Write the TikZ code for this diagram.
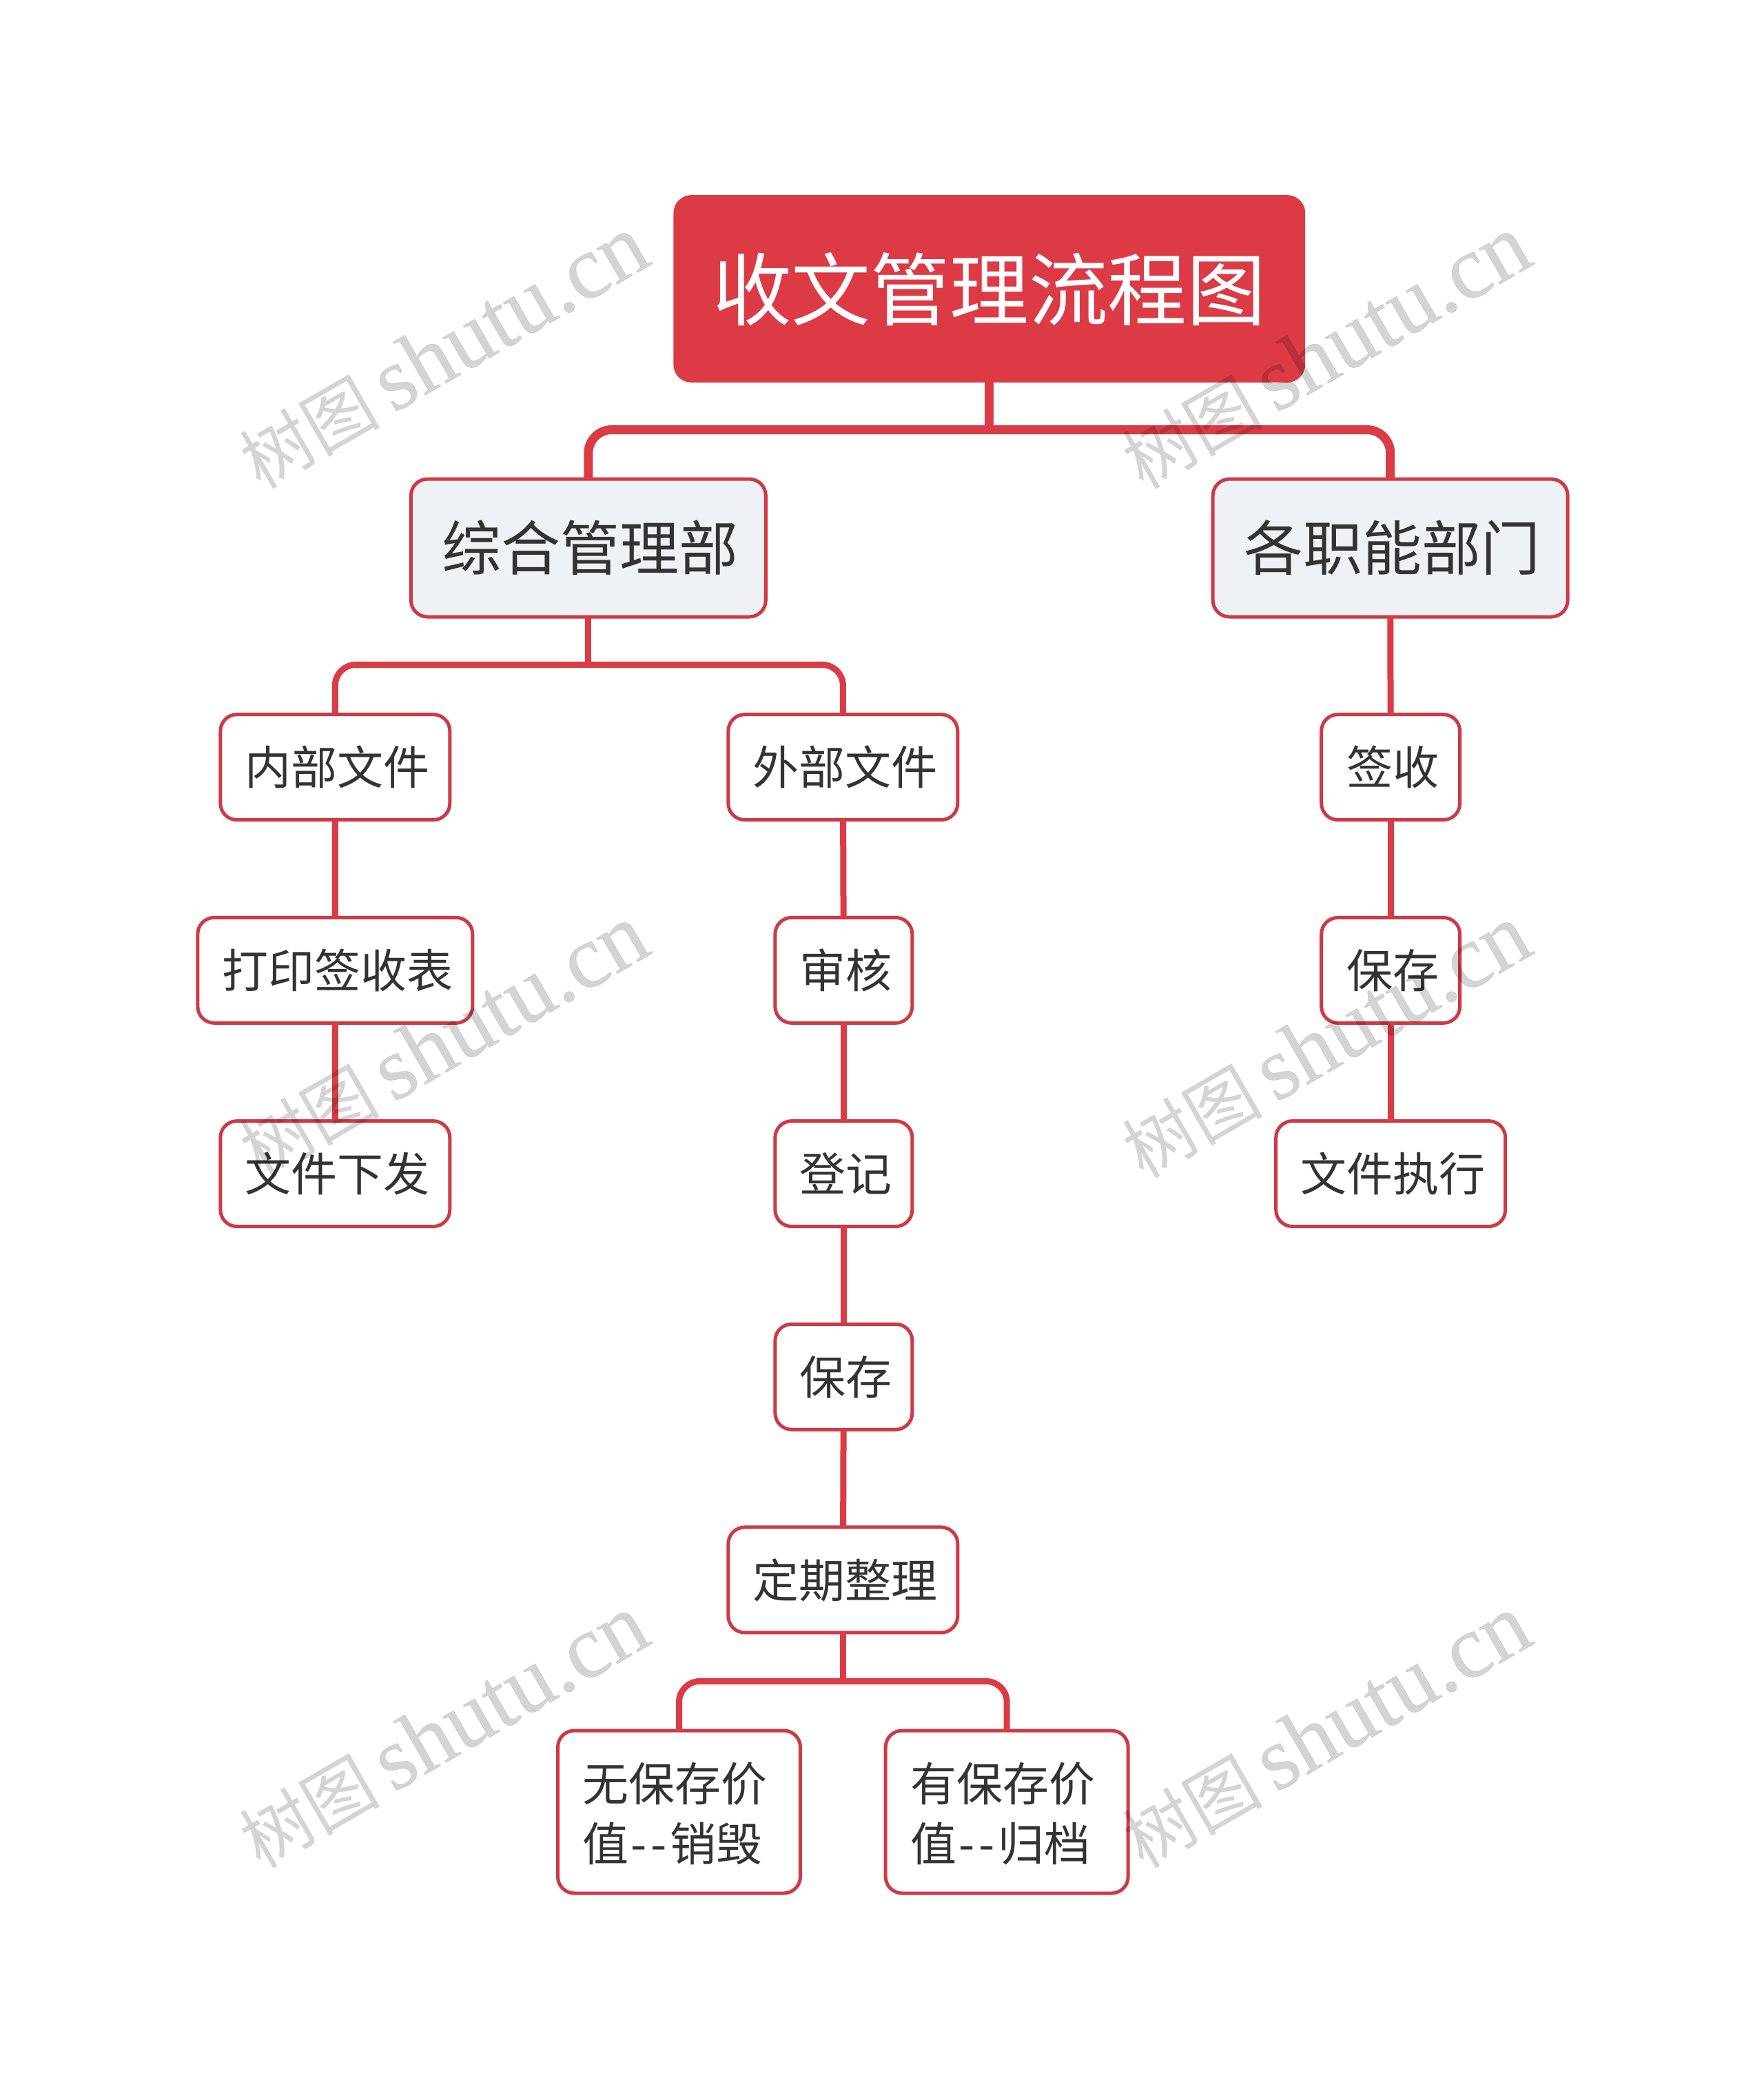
\documentclass[tikz,border=0pt]{standalone}
\usepackage{fontspec}
\setmainfont{Noto Sans CJK SC}
\newfontfamily\wmlatin[FakeBold=0.25]{Liberation Serif}
\newfontfamily\wmcjk{Noto Sans CJK SC}
\definecolor{rootred}{HTML}{DC3B45}
\definecolor{edgered}{HTML}{CE3A43}
\definecolor{panelgrey}{HTML}{EEF1F5}
\definecolor{inkgrey}{HTML}{333333}
\newcommand{\dhy}{\kern1.5pt-\kern3pt-\kern2.5pt}
\tikzset{
  x=0.4987pt,y=-0.4987pt,
  rootbox/.style={draw=none,fill=rootred,rounded corners=13pt,text=white,inner sep=0pt,outer sep=0pt,
    minimum width=458.5pt,minimum height=136pt,font=\fontsize{57.4}{66}\selectfont},
  deptbox/.style={draw=edgered,line width=2.5pt,fill=panelgrey,rounded corners=12pt,text=inkgrey,inner sep=0pt,outer sep=0pt,
    minimum width=257.5pt,minimum height=100pt,font=\fontsize{43}{52}\selectfont,execute at begin node={\hspace{3pt}}},
  leafbase/.style={draw=edgered,line width=2.5pt,fill=white,rounded corners=12pt,text=inkgrey,inner sep=0pt,outer sep=0pt,
    minimum height=76.5pt,font=\fontsize{33.5}{43.5}\selectfont},
  leafbox/.style={leafbase,execute at begin node={\hspace{3.5pt}}},
  twoline/.style={leafbase,minimum width=176pt,minimum height=118pt,align=left,text width=140pt},
  busthick/.style={draw=rootred,line width=6.5pt,rounded corners=17pt},
  busthin/.style={draw=rootred,line width=4.5pt,rounded corners=15pt},
  wmark/.style={text=black,text opacity=0.17,rotate=30,inner sep=0pt},
}
\begin{document}
\begin{tikzpicture}
\useasboundingbox (0,0) rectangle (2566.9,3042.3);
\begin{scope}[shift={(1.2,1.2)}]
\coordinate (busA) at (0,624);
\coordinate (busB) at (0,966);
\coordinate (busC) at (0,2445);

\node[rootbox] (root) at (1438.5,419) {收文管理流程图};
\node[deptbox] (zonghe) at (855,796) {综合管理部};
\node[deptbox] (gezhi) at (2022,796) {各职能部门};
\node[leafbox,minimum width=166.5pt] (neibu) at (486.5,1115) {内部文件};
\node[leafbox,minimum width=166.5pt] (waibu) at (1225.5,1115) {外部文件};
\node[leafbox,minimum width=100.5pt] (qianshou) at (2022.5,1115) {签收};
\node[leafbox,minimum width=199.5pt] (dayin) at (486.5,1410.5) {打印签收表};
\node[leafbox,minimum width=99.5pt] (shenhe) at (1226.5,1410.5) {审核};
\node[leafbox,minimum width=100.5pt] (baocunr) at (2022.5,1410.5) {保存};
\node[leafbox,minimum width=166.5pt] (xiafa) at (486.5,1706.5) {文件下发};
\node[leafbox,minimum width=99.5pt] (dengji) at (1226.5,1706.5) {登记};
\node[leafbox,minimum width=166.5pt] (zhixing) at (2022.5,1706.5) {文件执行};
\node[leafbox,minimum width=99.5pt] (baocunm) at (1226.5,2002) {保存};
\node[leafbox,minimum width=166.5pt] (zhengli) at (1225.5,2297.5) {定期整理};
\node[twoline] (wu) at (987,2635) {\rule{0pt}{31pt}无保存价\\值\dhy 销毁};
\node[twoline] (you) at (1464,2635) {\rule{0pt}{31pt}有保存价\\值\dhy 归档};

\draw[busthick] (root.south) -- (root.south |- busA);
\draw[busthick] (zonghe.north) -- (zonghe.north |- busA) -- (gezhi.north |- busA) -- (gezhi.north);
\draw[busthin] (zonghe.south) -- (zonghe.south |- busB);
\draw[busthin] (neibu.north) -- (neibu.north |- busB) -- (waibu.north |- busB) -- (waibu.north);
\draw[busthin] (neibu) -- (dayin);
\draw[busthin] (dayin) -- (xiafa);
\draw[busthin] (waibu) -- (shenhe);
\draw[busthin] (shenhe) -- (dengji);
\draw[busthin] (dengji) -- (baocunm);
\draw[busthin] (baocunm) -- (zhengli);
\draw[busthin] (gezhi) -- (qianshou);
\draw[busthin] (qianshou) -- (baocunr);
\draw[busthin] (baocunr) -- (zhixing);
\draw[busthin] (zhengli.south) -- (zhengli.south |- busC);
\draw[busthin] (wu.north) -- (wu.north |- busC) -- (you.north |- busC) -- (you.north);

\foreach \wx/\wy [count=\wi] in {644/511,1928/511,644/1514,1928/1514,644/2518,1928/2518}{
  \node[wmark] (wm\wi) at (\wx,\wy) {{\wmcjk\fontsize{51}{60}\selectfont 树图}\hspace{9pt}{\wmlatin\fontsize{65}{70}\selectfont shutu.cn}};
}
\end{scope}
\end{tikzpicture}
\end{document}
